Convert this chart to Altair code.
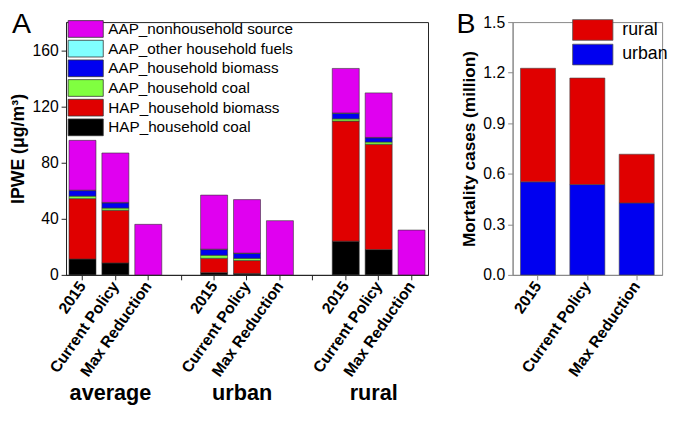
import altair as alt
import pandas as pd

FONT = "Liberation Sans"

# ---------------- data ----------------
groups = ["average", "urban", "rural"]
scenarios = ["2015", "Current Policy", "Max Reduction"]

# legend order (top to bottom)
components = [
    "AAP_nonhousehold source",
    "AAP_other household fuels",
    "AAP_household biomass",
    "AAP_household coal",
    "HAP_household biomass",
    "HAP_household coal",
]
comp_colors = ["#E000F0", "#80FFFF", "#0000F0", "#80FF40", "#E00000", "#000000"]

# bar order: average(2015, CP, MR), urban(2015, CP, MR), rural(2015, CP, MR)
hap_coal = [11.3, 8.5, 0, 1.6, 1.0, 0, 24.0, 18.0, 0]
hap_biomass = [43.0, 37.5, 0, 10.2, 9.2, 0, 85.5, 75.0, 0]
aap_coal = [1.8, 1.6, 0, 2.2, 1.6, 0, 1.6, 1.6, 0]
aap_biomass = [3.9, 3.7, 0, 4.0, 3.4, 0, 3.9, 3.0, 0]
aap_other = [0.3, 0.3, 0, 0.3, 0.3, 0, 0.3, 0.3, 0]
aap_nonhh = [35.5, 35.2, 36.0, 38.5, 38.1, 38.6, 31.7, 31.7, 31.9]

areas = ["rural", "urban"]
area_colors = ["#E00000", "#0000F0"]
urban_mort = [0.552, 0.536, 0.427]
rural_mort = [0.674, 0.632, 0.289]

# ---------------- tables ----------------
x_domain = []
bar_keys = []
for gi, g in enumerate(groups):
    if gi > 0:
        x_domain.append(f"gap{gi}|")
    for s in scenarios:
        x_domain.append(f"{g}|{s}")
        bar_keys.append(f"{g}|{s}")

series_bottom_up = [
    ("HAP_household coal", hap_coal),
    ("HAP_household biomass", hap_biomass),
    ("AAP_household coal", aap_coal),
    ("AAP_household biomass", aap_biomass),
    ("AAP_other household fuels", aap_other),
    ("AAP_nonhousehold source", aap_nonhh),
]
rows = []
for si, (name, vals) in enumerate(series_bottom_up):
    for k, v in zip(bar_keys, vals):
        if v > 0:
            rows.append({"key": k, "component": name, "value": v, "stack": si})
df_a = pd.DataFrame(rows)

rows_b = []
for s, u, r in zip(scenarios, urban_mort, rural_mort):
    rows_b.append({"scenario": s, "area": "urban", "value": u, "stack": 0})
    rows_b.append({"scenario": s, "area": "rural", "value": r, "stack": 1})
df_b = pd.DataFrame(rows_b)

grp_df = pd.DataFrame({"key": [f"{g}|Current Policy" for g in groups], "label": groups})

x_scale_a = alt.Scale(domain=x_domain, paddingInner=0.18, paddingOuter=0.09)
PLOT_H = 257

# ---------------- panel A ----------------
x_a = alt.X(
    "key:N",
    sort=None,
    scale=x_scale_a,
    axis=alt.Axis(
        title=None,
        labelExpr="split(datum.value, '|')[1]",
        labelAngle=-55,
        labelAlign="right",
        labelBaseline="middle",
        labelFontSize=16,
        labelFontWeight="bold",
        labelPadding=3,
        labelOverlap=False,
        labelBound=False,
        tickSize=5,
        domainColor="#222",
        tickColor="#222",
    ),
)

bars_a = alt.Chart(df_a).mark_bar(stroke="#333", strokeWidth=0.6).encode(
    x=x_a,
    y=alt.Y(
        "value:Q",
        stack="zero",
        scale=alt.Scale(domain=[0, 180], nice=False),
        axis=alt.Axis(
            values=[0, 40, 80, 120, 160],
            title="IPWE (μg/m³)",
            titleFontSize=18,
            titleFontWeight="bold",
            titlePadding=5,
            labelFontSize=16,
            labelPadding=3,
            tickSize=5,
            grid=False,
            domainColor="#222",
            tickColor="#222",
        ),
    ),
    color=alt.Color(
        "component:N",
        scale=alt.Scale(domain=components, range=comp_colors),
        legend=alt.Legend(
            title=None,
            orient="none",
            legendX=2,
            legendY=-2,
            symbolType="M-2.1,-1H2.1V1H-2.1Z",
            symbolSize=289,
            symbolStrokeWidth=0.8,
            symbolStrokeColor="#333",
            symbolOffset=9,
            labelOffset=14,
            labelLimit=400,
            rowPadding=-2.4,
            labelFontSize=15.5,
            padding=0,
            symbolOpacity=1,
        ),
    ),
    order=alt.Order("stack:Q", sort="ascending"),
)

grp_text = alt.Chart(grp_df).mark_text(
    fontSize=22, fontWeight="bold", baseline="alphabetic", dx=-5, font=FONT
).encode(
    x=alt.X("key:N", sort=None, scale=x_scale_a),
    y=alt.value(384),
    text="label:N",
)

lab_a = alt.Chart(pd.DataFrame({"t": ["A"]})).mark_text(
    fontSize=29, align="left", baseline="alphabetic", font=FONT
).encode(x=alt.value(-55), y=alt.value(11), text="t:N")

panel_a = alt.layer(bars_a, grp_text, lab_a).properties(
    width=368, height=PLOT_H, view=alt.ViewBackground(stroke="#222", strokeWidth=1)
)

# ---------------- panel B ----------------
bars_b = alt.Chart(df_b).mark_bar(stroke="#444", strokeWidth=0.6).encode(
    x=alt.X(
        "scenario:N",
        sort=scenarios,
        scale=alt.Scale(paddingInner=0.29, paddingOuter=0.16),
        axis=alt.Axis(
            title=None,
            labelAngle=-55,
            labelAlign="right",
            labelBaseline="middle",
            labelFontSize=16,
            labelFontWeight="bold",
            labelPadding=3,
            labelOverlap=False,
            labelBound=False,
            tickSize=5,
            domainColor="#888",
            tickColor="#888",
        ),
    ),
    y=alt.Y(
        "value:Q",
        stack="zero",
        scale=alt.Scale(domain=[0, 1.5], nice=False),
        axis=alt.Axis(
            values=[0, 0.3, 0.6, 0.9, 1.2, 1.5],
            format=".1f",
            title="Mortality cases (million)",
            titleFontSize=17.5,
            titleFontWeight="bold",
            titlePadding=4,
            labelFontSize=16,
            labelPadding=3,
            tickSize=5,
            grid=False,
            domainColor="#888",
            tickColor="#888",
        ),
    ),
    color=alt.Color(
        "area:N",
        scale=alt.Scale(domain=areas, range=area_colors),
        legend=alt.Legend(
            title=None,
            orient="none",
            legendX=61,
            legendY=-3,
            symbolType="M-1.95,-1H1.95V1H-1.95Z",
            symbolSize=441,
            symbolStrokeWidth=0.8,
            symbolStrokeColor="#555",
            symbolOffset=9.5,
            labelOffset=19,
            labelLimit=200,
            rowPadding=-1,
            labelFontSize=18,
            padding=0,
            symbolOpacity=1,
        ),
    ),
    order=alt.Order("stack:Q", sort="ascending"),
)

lab_b = alt.Chart(pd.DataFrame({"t": ["B"]})).mark_text(
    fontSize=29, align="left", baseline="alphabetic", font=FONT
).encode(x=alt.value(-57), y=alt.value(11), text="t:N")

panel_b = alt.layer(bars_b, lab_b).properties(
    width=152, height=PLOT_H, view=alt.ViewBackground(stroke="#888", strokeWidth=1)
)

chart = (
    alt.hconcat(panel_a, panel_b, spacing=27)
    .resolve_scale(color="independent")
    .resolve_legend(color="independent")
    .properties(padding={"left": 0, "top": -2, "right": 0, "bottom": 0}, background="white")
    .configure_axis(
        labelFont=FONT, titleFont=FONT, labelColor="black", titleColor="black"
    )
    .configure_legend(labelFont=FONT, labelColor="black")
    .configure_text(font=FONT)
)

chart.save("out.html", embed_options={"renderer": "svg", "actions": False})
